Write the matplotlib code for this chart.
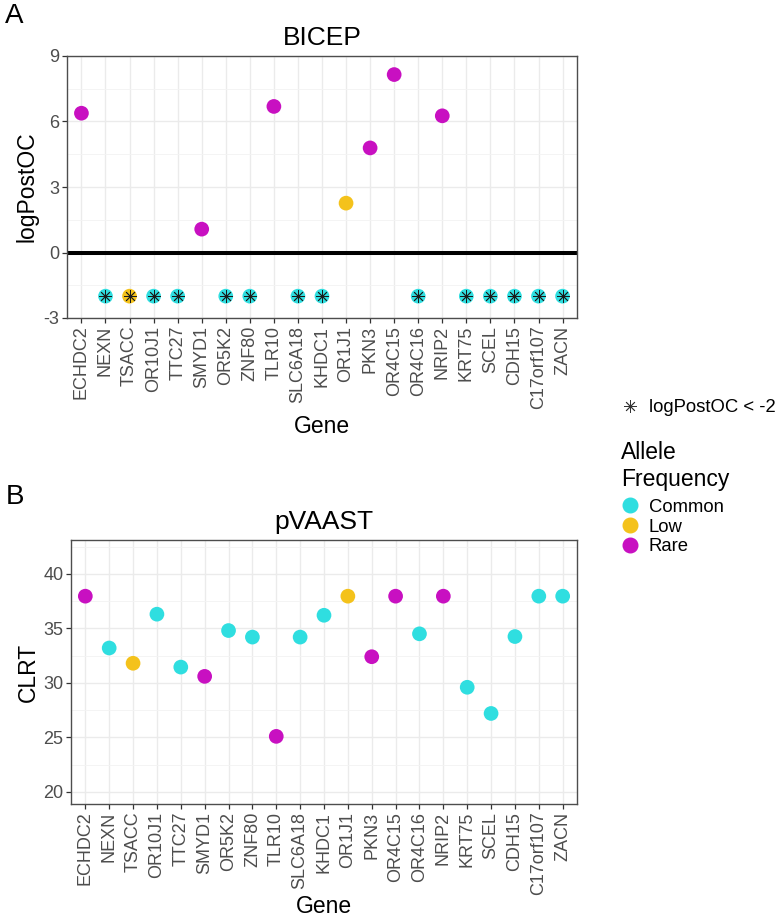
import matplotlib
matplotlib.use("Agg")
import matplotlib.pyplot as plt
from matplotlib.lines import Line2D
from matplotlib.ticker import MultipleLocator
import numpy as np

plt.rcParams['font.family'] = ['Liberation Sans', 'DejaVu Sans']
plt.rcParams['axes.unicode_minus'] = False

genes = ["ECHDC2", "NEXN", "TSACC", "OR10J1", "TTC27", "SMYD1", "OR5K2", "ZNF80",
         "TLR10", "SLC6A18", "KHDC1", "OR1J1", "PKN3", "OR4C15", "OR4C16", "NRIP2",
         "KRT75", "SCEL", "CDH15", "C17orf107", "ZACN"]
freq = ["Rare", "Common", "Low", "Common", "Common", "Rare", "Common", "Common",
        "Rare", "Common", "Common", "Low", "Rare", "Rare", "Common", "Rare",
        "Common", "Common", "Common", "Common", "Common"]
# BICEP logPostOC (values below -2 shown at -2 and flagged)
bicep = [6.38, -2, -2, -2, -2, 1.07, -2, -2, 6.69, -2, -2, 2.26, 4.79, 8.15, -2, 6.26,
         -2, -2, -2, -2, -2]
below_thr = [False, True, True, True, True, False, True, True, False, True, True, False,
             False, False, True, False, True, True, True, True, True]
# pVAAST CLRT
clrt = [37.95, 33.2, 31.8, 36.3, 31.45, 30.6, 34.8, 34.2, 25.1, 34.2, 36.2, 37.95,
        32.4, 37.95, 34.5, 37.95, 29.6, 27.2, 34.25, 37.95, 37.95]

freq_levels = ["Common", "Low", "Rare"]
colors = {"Common": "#2FDEE0", "Low": "#F4C21B", "Rare": "#C810C1"}

W, H = 780, 918
fig = plt.figure(figsize=(W / 100, H / 100), dpi=100)


def px_axes(left, top, right, bottom):
    return fig.add_axes([left / W, 1 - bottom / H, (right - left) / W, (bottom - top) / H])


def style(ax):
    ax.set_facecolor("white")
    for s in ax.spines.values():
        s.set_color("#4d4d4d")
        s.set_linewidth(1.0)
    ax.grid(True, which="major", color="#EBEBEB", lw=1.0, zorder=0)
    ax.grid(True, which="minor", color="#F3F3F3", lw=0.6, zorder=0)
    ax.set_axisbelow(True)
    ax.tick_params(axis="both", which="major", length=3.5, width=0.9, color="#333333",
                   labelcolor="#4d4d4d", labelsize=13)
    ax.tick_params(axis="both", which="minor", length=0)
    ax.tick_params(axis="x", pad=2)
    ax.tick_params(axis="y", pad=2)


xpos = np.arange(len(genes))
cols = [colors[f] for f in freq]
msize = 112

# Panel A
axA = px_axes(67, 56, 577, 318)
style(axA)
axA.axhline(0, color="black", lw=2.9, zorder=1)
axA.scatter(xpos, bicep, s=msize, c=cols, zorder=3, linewidths=0)
bx = [x for x, b in zip(xpos, below_thr) if b]
by = [v for v, b in zip(bicep, below_thr) if b]
axA.plot(bx, by, ls="", marker=(8, 2, 0), markersize=9, mew=0.6, color="#1a1a1a", zorder=4)
axA.set_xlim(-0.6, len(genes) - 0.4)
axA.set_ylim(-3, 9)
axA.yaxis.set_major_locator(MultipleLocator(3))
axA.yaxis.set_minor_locator(MultipleLocator(1.5))
axA.set_xticks(xpos)
axA.set_xticklabels(genes, rotation=90)
axA.set_title("BICEP", fontsize=19, pad=8)
axA.set_xlabel("Gene", fontsize=16.5)
axA.set_ylabel("logPostOC", fontsize=16.5)
axA.xaxis.set_label_coords(0.5, -0.37)
axA.yaxis.set_label_coords(-0.055, 0.5)

# Panel B
axB = px_axes(71, 540, 577, 804)
style(axB)
axB.scatter(xpos, clrt, s=msize, c=cols, zorder=3, linewidths=0)
axB.set_xlim(-0.6, len(genes) - 0.4)
axB.set_ylim(18.9, 43.1)
axB.yaxis.set_major_locator(MultipleLocator(5))
axB.yaxis.set_minor_locator(MultipleLocator(2.5))
axB.set_xticks(xpos)
axB.set_xticklabels(genes, rotation=90)
axB.set_title("pVAAST", fontsize=19, pad=8)
axB.set_xlabel("Gene", fontsize=16.5)
axB.set_ylabel("CLRT", fontsize=16.5)
axB.xaxis.set_label_coords(0.5, -0.345)
axB.yaxis.set_label_coords(-0.062, 0.5)

# Panel letters
fig.text(5 / W, 1 - 3 / H, "A", fontsize=20, va="top", ha="left")
fig.text(6 / W, 1 - 484 / H, "B", fontsize=20, va="top", ha="left")

# Legends
h1 = [Line2D([], [], ls="", marker=(8, 2, 0), markersize=9, mew=0.6, color="#333333")]
leg1 = fig.legend(h1, ["logPostOC < -2"], loc="upper left",
                  bbox_to_anchor=(621 / W, 1 - 399 / H), frameon=False, fontsize=13.3,
                  handlelength=1.0, handletextpad=0.5, borderaxespad=0, borderpad=0)
h2 = [Line2D([], [], ls="", marker="o", markersize=10.5, color=colors[f]) for f in freq_levels]
leg2 = fig.legend(h2, freq_levels, loc="upper left", title="Allele\nFrequency",
                  bbox_to_anchor=(621 / W, 1 - 441 / H), frameon=False, fontsize=13.3,
                  title_fontsize=16.5, alignment="left", handlelength=1.0,
                  handletextpad=0.5, labelspacing=0.15, borderaxespad=0, borderpad=0)
leg2._legend_box.sep = 6

fig.savefig("out.png", dpi=100, facecolor="white")
